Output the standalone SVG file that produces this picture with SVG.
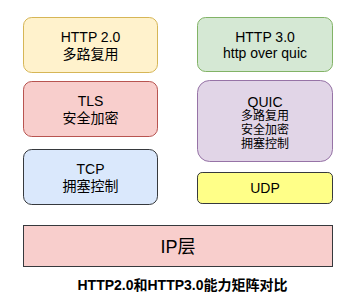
<svg xmlns="http://www.w3.org/2000/svg" width="357" height="306" viewBox="0 0 357 306">
<style>
  .box { stroke-width: 1; }
  .t { font-family: "Liberation Sans", "Noto Sans CJK SC", sans-serif; font-size: 14px; fill: #000; text-anchor: middle; }
  .s { font-size: 12px; }
  .ip { font-size: 18px; }
  .cap { font-size: 14px; font-weight: bold; }
</style>
<rect width="357" height="306" fill="#ffffff"/>
<g id="http2">
  <rect class="box" x="23.5" y="17.5" width="134" height="55" rx="8.25" fill="#fff2cc" stroke="#d6b656"/>
  <text class="t" x="90.5" y="42">HTTP 2.0</text>
  <text class="t" x="90.5" y="58.7">多路复用</text>
</g>
<g id="tls">
  <rect class="box" x="23.5" y="81.5" width="134" height="55" rx="8.25" fill="#f8cecc" stroke="#b85450"/>
  <text class="t" x="90.5" y="106">TLS</text>
  <text class="t" x="90.5" y="122.7">安全加密</text>
</g>
<g id="tcp">
  <rect class="box" x="23.5" y="149.5" width="134" height="55" rx="8.25" fill="#dae8fc" stroke="#36393d"/>
  <text class="t" x="90.5" y="174">TCP</text>
  <text class="t" x="90.5" y="190.7">拥塞控制</text>
</g>
<g id="http3">
  <rect class="box" x="197.5" y="17.5" width="135" height="54" rx="8.1" fill="#d5e8d4" stroke="#82b366"/>
  <text class="t" x="265" y="42">HTTP 3.0</text>
  <text class="t" x="265" y="58.3">http over quic</text>
</g>
<g id="quic">
  <rect class="box" x="197.5" y="80.5" width="135" height="81" rx="12.15" fill="#e1d5e7" stroke="#9673a6"/>
  <text class="t" x="265" y="107.3">QUIC</text>
  <text class="t s" x="265" y="120.1">多路复用</text>
  <text class="t s" x="265" y="134">安全加密</text>
  <text class="t s" x="265" y="147.7">拥塞控制</text>
</g>
<g id="udp">
  <rect class="box" x="197.5" y="172.5" width="135" height="31" rx="4.65" fill="#ffff88" stroke="#36393d"/>
  <text class="t" x="265" y="193">UDP</text>
</g>
<g id="ip">
  <rect class="box" x="23.5" y="225.5" width="309" height="41" fill="#f8cecc" stroke="#36393d"/>
  <text class="t ip" x="178" y="252.5">IP层</text>
</g>
<g id="connectors"></g>
<g id="caption">
  <text class="t cap" x="182.5" y="290">HTTP2.0和HTTP3.0能力矩阵对比</text>
</g>
</svg>
